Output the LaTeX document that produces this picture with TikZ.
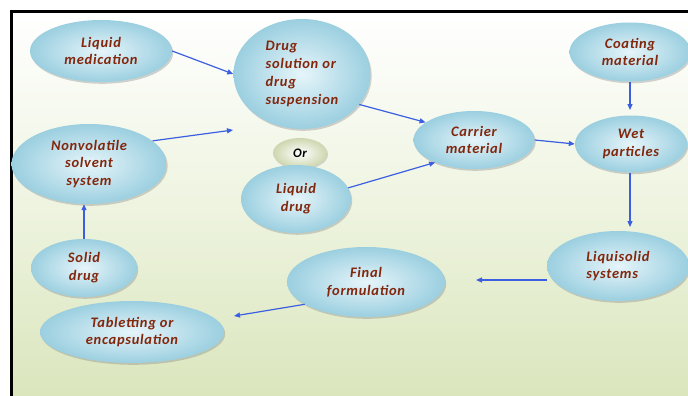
\documentclass[tikz,border=0pt]{standalone}
\usepackage{fontspec}
\setmainfont{Carlito}[LetterSpace=5]
\usetikzlibrary{shapes.geometric,shadows,arrows.meta}
\definecolor{txt}{RGB}{130,38,12}
\definecolor{arr}{RGB}{60,95,225}
\definecolor{bubin}{RGB}{230,245,250}
\definecolor{bubout}{RGB}{155,207,224}
\definecolor{bgbot}{RGB}{218,229,188}
\definecolor{bgmid}{RGB}{238,244,224}
\tikzset{
  bub/.style={ellipse, inner sep=0pt, inner color=bubin, outer color=bubout,
    drop shadow={shadow xshift=1.2pt, shadow yshift=-1.8pt, opacity=0.35},
    text=txt, font=\fontsize{14.5}{17.8}\selectfont\bfseries\itshape, align=center},
  orbub/.style={ellipse, inner sep=0pt, inner color=white, outer color={rgb,255:red,205;green,215;blue,175},
    drop shadow={shadow xshift=1pt, shadow yshift=-1.5pt, opacity=0.3},
    text=black, font=\fontsize{13}{14}\selectfont\bfseries\itshape},
  conn/.style={draw=arr, line width=1.2pt, -{Triangle[length=6pt,width=5pt]}}
}
\begin{document}
\begin{tikzpicture}[x=1pt,y=-1pt]
\useasboundingbox (0,0) rectangle (688,396);
\shade[top color=white, bottom color=bgbot, middle color=bgmid] (11,12) rectangle (700,400);
\draw[line width=3pt] (11,420) -- (11,12) -- (700,12);

\node[bub, minimum width=142, minimum height=62] (lm) at (101,51) {Liquid\\medication};
\node[bub, minimum width=137, minimum height=110, align=left] (ds) at (302,74) {Drug\\solution or\\drug\\suspension};
\node[orbub, minimum width=54, minimum height=30] (or) at (300,153) {Or};
\node[bub, minimum width=155, minimum height=80] (nv) at (89,164) {Nonvolatile\\solvent\\system};
\node[bub, minimum width=110, minimum height=68] (ld) at (296,199) {Liquid\\drug};
\node[bub, minimum width=106, minimum height=58] (sd) at (84,268) {Solid\\drug};
\node[bub, minimum width=184, minimum height=62] (tb) at (132,332) {Tabletting or\\encapsulation};
\node[bub, minimum width=158, minimum height=70] (ff) at (366,282) {Final\\formulation};
\node[bub, minimum width=142, minimum height=70, align=left] (ls) at (618,266) {Liquisolid\\systems};
\node[bub, minimum width=121, minimum height=58] (cm) at (474,140) {Carrier\\material};
\node[bub, minimum width=112, minimum height=57] (wp) at (631,144) {Wet\\particles};
\node[bub, minimum width=121, minimum height=59] (co) at (630,52) {Coating\\material};

\coordinate (nvend) at (233,130);
\coordinate (ffend) at (476,280);
\coordinate (tbend) at (234,316);

\draw[conn] (lm.east) -- (ds.west);
\draw[conn] (nv.20) -- (nvend);
\draw[conn] (ds.-28) -- (cm.160);
\draw[conn] (ld.12) -- (cm.-150);
\draw[conn] (cm.east) -- (wp.west);
\draw[conn] (co.south) -- (co.south |- 0,110);
\draw[conn] (co.south |- wp.south) -- (co.south |- 0,227);
\draw[conn] (ls.west |- ffend) -- (ffend);
\draw[conn] (ff.-160) -- (tbend);
\draw[conn] (sd.north) -- (sd.north |- nv.south);
\end{tikzpicture}
\end{document}
